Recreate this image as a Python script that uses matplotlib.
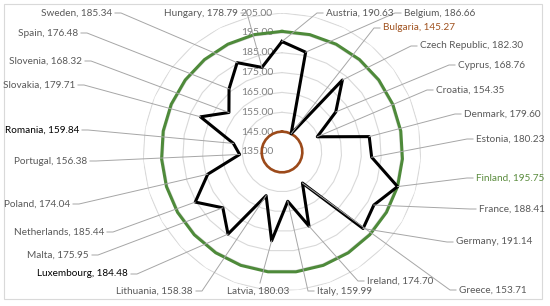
import numpy as np
import matplotlib
matplotlib.use("Agg")
import matplotlib.pyplot as plt
from matplotlib.lines import Line2D
from matplotlib.patches import Rectangle

countries = ['Austria', 'Belgium', 'Bulgaria', 'Czech Republic', 'Cyprus', 'Croatia',
             'Denmark', 'Estonia', 'Finland', 'France', 'Germany', 'Greece', 'Ireland',
             'Italy', 'Latvia', 'Lithuania', 'Luxembourg', 'Malta', 'Netherlands',
             'Poland', 'Portugal', 'Romania', 'Slovakia', 'Slovenia', 'Spain',
             'Sweden', 'Hungary']
values = [190.63, 186.66, 145.27, 182.30, 168.76, 154.35, 179.60, 180.23, 195.75,
          188.41, 191.14, 153.71, 174.70, 159.99, 180.03, 158.38, 184.48, 175.95,
          185.44, 174.04, 156.38, 159.84, 179.71, 168.32, 176.48, 185.34, 178.79]
min_value = 145.27   # Bulgaria
max_value = 195.75   # Finland
ticks = [135, 145, 155, 165, 175, 185, 195, 205]

# label layout (image pixels): x anchor, y centre, side
label_pos = {
    'Sweden': (112, 13, 'L'), 'Hungary': (238, 13, 'L'), 'Spain': (78, 33, 'L'),
    'Slovenia': (82, 61, 'L'), 'Slovakia': (75, 85, 'L'), 'Romania': (79, 130, 'L'),
    'Portugal': (87, 161, 'L'), 'Poland': (70, 204, 'L'), 'Netherlands': (104, 232, 'L'),
    'Malta': (89, 255, 'L'), 'Luxembourg': (128, 274, 'L'), 'Lithuania': (193, 291, 'L'),
    'Latvia': (258, 291, 'T'), 'Italy': (317, 291, 'R'), 'Ireland': (367, 281, 'R'),
    'Greece': (459, 290, 'R'), 'Germany': (456, 242, 'R'), 'France': (479, 209, 'R'),
    'Finland': (476, 178, 'R'), 'Estonia': (476, 139, 'R'), 'Denmark': (464, 114, 'R'),
    'Croatia': (436, 90, 'R'), 'Cyprus': (458, 65, 'R'), 'Czech Republic': (420, 46, 'R'),
    'Bulgaria': (383, 28, 'R'), 'Belgium': (404, 13, 'R'), 'Austria': (326, 13, 'R'),
}
label_color = {'Bulgaria': '#a0521f', 'Finland': '#5b8c3e', 'Romania': 'black',
               'Luxembourg': 'black'}

plt.rcParams['font.family'] = ['Lato', 'DejaVu Sans']

W, H = 550, 306
fig = plt.figure(figsize=(W / 100, H / 100), dpi=100)
cx, cy, R = 282, 152, 139
ax = fig.add_axes([(cx - R) / W, (H - cy - R) / H, 2 * R / W, 2 * R / H], projection='polar')
ax.set_theta_zero_location('N')
ax.set_theta_direction(-1)
ax.set_ylim(ticks[0], ticks[-1])
ax.set_axis_off()

n = len(countries)
theta = np.linspace(0, 2 * np.pi, n, endpoint=False)
theta_c = np.append(theta, theta[0])

for t in ticks[1:]:
    ax.plot(theta_c, [t] * (n + 1), color='#d9d9d9', lw=0.8, zorder=1)
for t in ticks:
    ax.annotate('%.2f' % t, xy=(0, t), xytext=(-9, 0), textcoords='offset pixels',
                ha='right', va='center', fontsize=7.5, color='#808080', zorder=2)

ax.plot(theta_c, [max_value] * (n + 1), color='#4e8a3a', lw=2.2, zorder=3)
ax.plot(theta_c, [min_value] * (n + 1), color='#9c4a1a', lw=1.9, zorder=3)
ax.plot(theta_c, values + [values[0]], color='black', lw=2.2, zorder=4)

for i, c in enumerate(countries):
    x, y, side = label_pos[c]
    fy = H - y
    px, py = ax.transData.transform((theta[i], values[i]))
    txt = '%s, %.2f' % (c, values[i])
    col = label_color.get(c, '#595959')
    if side == 'L':
        fig.text(x / W, fy / H, txt, ha='right', va='center', fontsize=7.2, color=col)
        xs, ys = [x + 3, x + 9, px], [fy, fy, py]
    elif side == 'R':
        fig.text(x / W, fy / H, txt, ha='left', va='center', fontsize=7.2, color=col)
        xs, ys = [x - 3, x - 9, px], [fy, fy, py]
    else:
        fig.text(x / W, fy / H, txt, ha='center', va='center', fontsize=7.2, color=col)
        xs, ys = [x + 2, px], [fy + 8, py]
    fig.add_artist(Line2D(np.array(xs) / W, np.array(ys) / H, color='#a6a6a6',
                          lw=0.7, zorder=2))

fig.add_artist(Rectangle((4 / W, (H - 299) / H), 538 / W, 295 / H, fill=False,
                         edgecolor='#d9d9d9', lw=0.8))

fig.savefig('out.png', dpi=100)
